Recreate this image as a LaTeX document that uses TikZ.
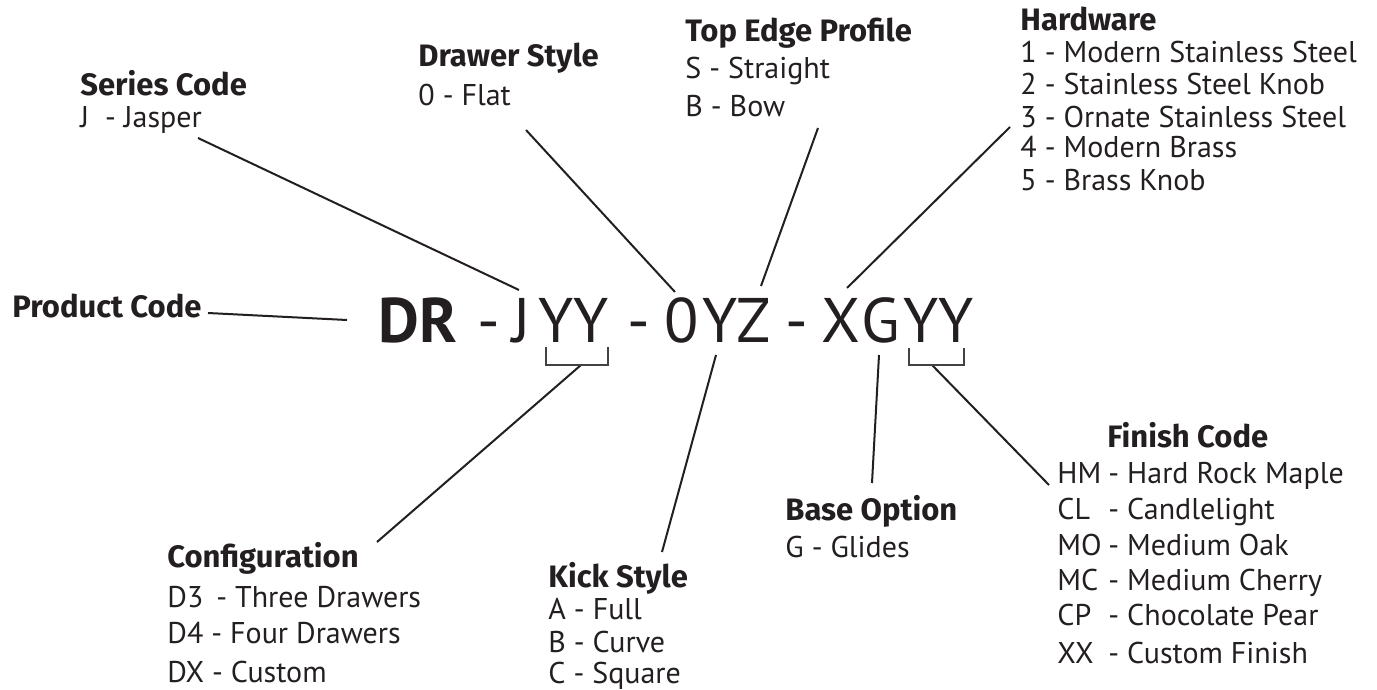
\documentclass[tikz,border=0pt]{standalone}
\usepackage{fontspec}
\setmainfont{PT Sans}
\newfontfamily\headfont{Fira Sans}
\usepackage{xcolor}
\usepackage{tikz}
\usetikzlibrary{positioning}

\definecolor{ink}{HTML}{231F20}

\tikzset{
    head/.style={anchor=base west, inner sep=0pt, text=ink,
        font=\fontsize{15.5}{18}\headfont\bfseries},
    item/.style={anchor=base west, inner sep=0pt, text=ink,
        font=\fontsize{15}{17}\selectfont},
    code/.style={anchor=base west, inner sep=0pt, text=ink,
        font=\fontsize{31.5}{36}\selectfont},
    codebold/.style={code, font=\fontsize{31.5}{36}\selectfont\bfseries},
    lead/.style={line width=1pt, draw=ink},
    bracket/.style={line width=0.8pt, draw=ink!85},
}

\begin{document}
\begin{tikzpicture}[x=0.5pt,y=-0.5pt]
                \useasboundingbox (0,0) rectangle (1377,690);

                % the code itself
                \node[codebold] (dr) at (378,342) {DR};
                \node[code] (dash-a) at (477,342) {-};
                \node[code] (ser-j) at (512,342) {J};
                \node[code] (cfg-yy) at (538,342) {YY};
                \node[code] (dash-b) at (627,342) {-};
                \node[code] (drw-0) at (664,342) {0};
                \node[code] (kick-y) at (702,342) {Y};
                \node[code] (top-z) at (736,342) {Z};
                \node[code] (dash-c) at (785,342) {-};
                \node[code] (hw-x) at (821,342) {X};
                \node[code] (base-g) at (861,342) {G};
                \node[code] (fin-yy) at (903,342) {YY};

                % labels above
                \node[head] (prod) at (12,317) {Product Code};

                \node[head] (ser) at (80,96) {Series Code};
                \node[item] (ser-1) at (80,128) {J~~- Jasper};

                \node[head] (drw) at (418,67) {Drawer Style};
                \node[item] (drw-1) at (418,106) {0 - Flat};

                \node[head] (top) at (685,42) {Top Edge Profile};
                \node[item] (top-1) at (685,79) {S - Straight};
                \node[item] (top-2) at (685,117) {B - Bow};

                \node[head] (hw) at (1020,31) {Hardware};
                \node[item] (hw-1) at (1020,63) {1 - Modern Stainless Steel};
                \node[item] (hw-2) at (1020,95) {2 - Stainless Steel Knob};
                \node[item] (hw-3) at (1020,127) {3 - Ornate Stainless Steel};
                \node[item] (hw-4) at (1020,158) {4 - Modern Brass};
                \node[item] (hw-5) at (1020,191) {5 - Brass Knob};

                % labels below
                \node[head] (cfg) at (167,567) {Configuration};
                \node[item] (cfg-1) at (167,607) {D3\, - Three Drawers};
                \node[item] (cfg-2) at (167,643) {D4 - Four Drawers};
                \node[item] (cfg-3) at (167,682) {DX - Custom};

                \node[head] (kick) at (548,587) {Kick Style};
                \node[item] (kick-1) at (548,619) {A - Full};
                \node[item] (kick-2) at (548,652) {B - Curve};
                \node[item] (kick-3) at (548,683) {C - Square};

                \node[head] (base) at (785,520) {Base Option};
                \node[item] (base-1) at (785,557) {G - Glides};

                \node[head] (fin) at (1107,447) {Finish Code};
                \node[item] (fin-c1) at (1057,483) {HM};
                \node[item] (fin-c2) at (1057,519) {CL};
                \node[item] (fin-c3) at (1057,555) {MO};
                \node[item] (fin-c4) at (1057,590) {MC};
                \node[item] (fin-c5) at (1057,625) {CP};
                \node[item] (fin-c6) at (1057,663) {XX};
                \node[item] (fin-1) at (1108,483) {- Hard Rock Maple};
                \node[item] (fin-2) at (1108,519) {- Candlelight};
                \node[item] (fin-3) at (1108,555) {- Medium Oak};
                \node[item] (fin-4) at (1108,590) {- Medium Cherry};
                \node[item] (fin-5) at (1108,625) {- Chocolate Pear};
                \node[item] (fin-6) at (1108,663) {- Custom Finish};

                % ends of the leader lines
                \coordinate (prod-a) at (208,313);
                \coordinate (prod-b) at (347,320);
                \coordinate (ser-a) at (198,138);
                \coordinate (ser-b) at (519,290);
                \coordinate (drw-a) at (526,130);
                \coordinate (drw-b) at (675,292);
                \coordinate (top-a) at (818,128);
                \coordinate (top-b) at (761,286);
                \coordinate (hw-a) at (1010,127);
                \coordinate (hw-b) at (847,288);
                \coordinate (cfg-a) at (581,365);
                \coordinate (cfg-b) at (377,542);
                \coordinate (kick-a) at (716,355);
                \coordinate (kick-b) at (662,552);
                \coordinate (base-a) at (879,355);
                \coordinate (base-b) at (872,483);
                \coordinate (fin-a) at (932,365);
                \coordinate (fin-b) at (1049,485);

                \draw[lead] (prod-a) -- (prod-b);
                \draw[lead] (ser-a) -- (ser-b);
                \draw[lead] (drw-a) -- (drw-b);
                \draw[lead] (top-a) -- (top-b);
                \draw[lead] (hw-a) -- (hw-b);
                \draw[lead] (cfg-a) -- (cfg-b);
                \draw[lead] (kick-a) -- (kick-b);
                \draw[lead] (base-a) -- (base-b);
                \draw[lead] (fin-a) -- (fin-b);

                % brackets under the YY pairs
                \draw[bracket] (546,347) -- (546,365) -- (608,365) -- (608,347);
                \draw[bracket] (909,348) -- (909,365) -- (964,365) -- (964,348);

\end{tikzpicture}
\end{document}
